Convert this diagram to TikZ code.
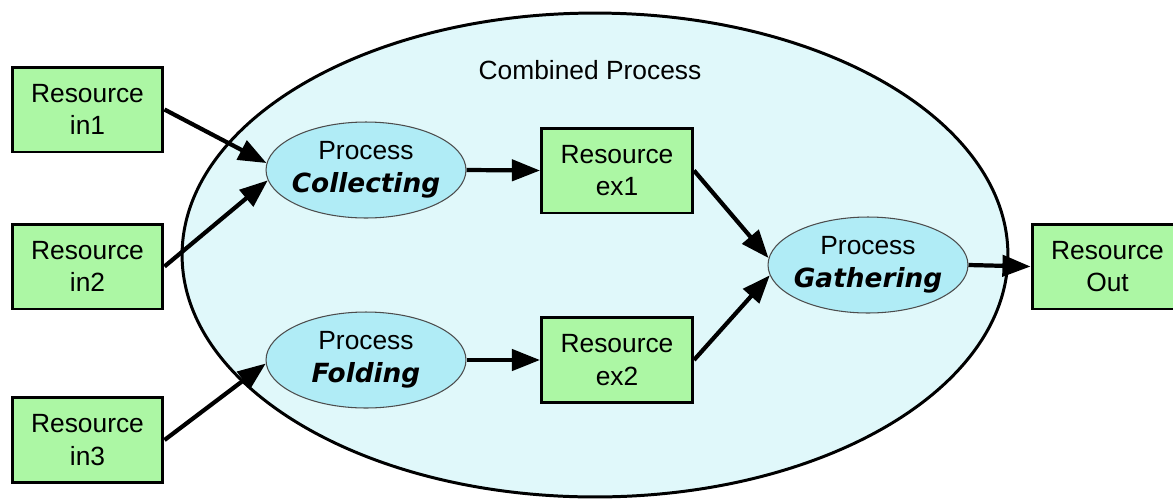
\documentclass[tikz,border=0pt]{standalone}
\usepackage{fontspec}
\setmainfont{Liberation Sans}
\newfontfamily\procfont{DejaVu Sans}
\usetikzlibrary{positioning,calc,shapes.geometric,arrows.meta}

\definecolor{resgreen}{RGB}{172,247,164}
\definecolor{proccyan}{RGB}{176,236,246}
\definecolor{combcyan}{RGB}{224,248,250}

\newcommand{\procname}[1]{{\procfont\bfseries\itshape #1}}

\tikzset{
  resource/.style={draw, line width=1.7pt, fill=resgreen, minimum width=3.02cm,
    minimum height=1.7cm, align=center, inner sep=0pt},
  process/.style={ellipse, draw=black!70, line width=0.6pt, fill=proccyan,
    minimum width=4cm, minimum height=1.92cm, align=center,
    inner ysep=0pt, inner xsep=-4pt},
  flow/.style={line width=2.4pt, -{Triangle[length=16pt,width=12pt]}},
}

\begin{document}
\begin{tikzpicture}[x=0.02cm, y=-0.02cm, font=\fontsize{15}{18.5}\selectfont]
    \useasboundingbox (0,0) rectangle (1173,498);

    % combined process
    \node [ellipse, draw, line width=1.7pt, fill=combcyan,
      minimum width=16.52cm, minimum height=9.68cm] (comb) at (595,255) {};
    \node (combtitle) at (590,70) {Combined Process};

    % resources
    \node [resource] (in1) at (87.5,109.5) {Resource\\in1};
    \node [resource] (in2) at (87.5,266.5) {Resource\\in2};
    \node [resource] (in3) at (87.5,440) {Resource\\in3};
    \node [resource] (ex1) at (617,170.5) {Resource\\ex1};
    \node [resource] (ex2) at (617,360) {Resource\\ex2};
    \node [resource] (out) at (1107.5,266.5) {Resource\\Out};

    % processes
    \node [process] (coll) at (366,170) {Process\\\procname{Collecting}};
    \node [process] (fold) at (366,360) {Process\\\procname{Folding}};
    \node [process] (gath) at (868,265) {Process\\\procname{Gathering}};

    % flows
    \draw [flow] (in1.east) -- (coll.176);
    \draw [flow] (in2.east) -- (coll.186);
    \draw [flow] (in3.east) -- (fold.182);
    \draw [flow] (coll.east) -- (ex1.west);
    \draw [flow] (fold.east) -- (ex2.west);
    \draw [flow] (ex1.east) -- (gath.176);
    \draw [flow] (ex2.east) -- (gath.186);
    \draw [flow] (gath.east) -- (out.west);
\end{tikzpicture}
\end{document}
